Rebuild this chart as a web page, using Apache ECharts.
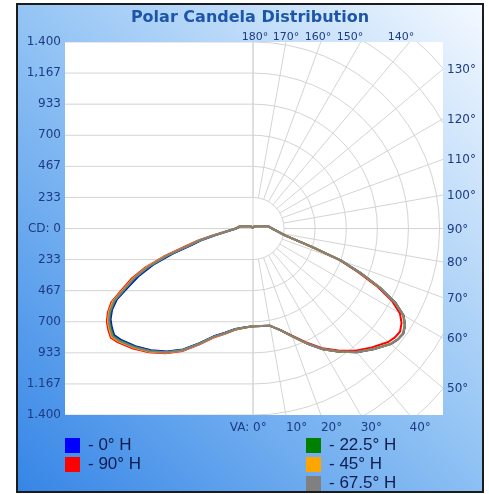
<!DOCTYPE html>
<html><head><meta charset="utf-8">
<script src="https://cdn.jsdelivr.net/npm/echarts@6/dist/echarts.min.js"></script>
<style>html,body{margin:0;padding:0;background:#fff;}#c{width:489px;height:494px;}</style>
</head><body><div id="c"></div>
<script>
// ---------------- DATA ----------------
// vertical angles (degrees from nadir)
const angles = [0,5,10,15,20,25,30,35,40,45,50,52.5,55,57.5,60,62.5,65,67.5,70,72.5,75,77.5,80,85,90,100,110,120,135,150,165,180];
// candela values: right half = plane H, left half = plane H+180
const h0_right    = [730,735,742,790,862,952,1047,1130,1213,1282,1350,1370,1378,1354,1306,1205,1053,876,705,476,332,255,216,172,143,110,52,33,25,18,12,5];
const h0_left     = [733,745,766,810,861,949,1048,1127,1193,1249,1298,1314,1294,1268,1222,1152,1030,925,800,635,474,388,290,174,126,97,50,32,24,18,12,5];
const h22_right   = [730,735,742,790,861,951,1046,1129,1212,1280,1349,1369,1376,1352,1304,1203,1051,874,704,475,331,255,215,171,143,110,52,33,25,18,12,5];
const h22_left    = [733,746,768,812,864,952,1051,1131,1198,1255,1305,1321,1301,1276,1231,1164,1045,945,818,655,490,398,296,177,127,98,50,32,24,18,12,5];
const h45_right   = [730,735,742,790,861,951,1046,1128,1211,1279,1348,1368,1375,1351,1303,1202,1050,873,703,474,331,254,215,171,143,110,52,33,25,18,12,5];
const h45_left    = [733,747,770,816,868,958,1058,1139,1208,1267,1319,1337,1317,1292,1249,1186,1071,972,850,690,516,415,306,181,129,98,50,32,24,18,12,5];
const h67_right   = [730,735,742,790,860,950,1045,1127,1210,1278,1347,1367,1374,1349,1301,1199,1048,872,702,473,330,254,215,171,143,110,52,33,25,18,12,5];
const h67_left    = [733,746,769,814,866,955,1055,1135,1203,1261,1312,1329,1309,1284,1240,1175,1058,959,835,673,503,407,301,179,128,98,50,32,24,18,12,5];
const h90_right   = [730,735,742,788,856,944,1038,1118,1198,1262,1325,1343,1348,1322,1274,1175,1028,855,690,465,325,252,214,170,142,110,52,33,25,18,12,5];
const h90_left    = [733,748,772,818,871,961,1062,1143,1213,1274,1327,1345,1326,1301,1258,1198,1085,988,865,705,530,425,312,184,130,99,50,32,24,18,12,5];

const seriesNames = ['0° H','90° H','22.5° H','45° H','67.5° H'];
const seriesColors = ['#0000ff','#ff0000','#008000','#ffa500','#808080'];

// axis ticks (cd) and their labels, top to bottom
const tickValues = [1400,1166.667,933.333,700,466.667,233.333,0,-233.333,-466.667,-700,-933.333,-1166.667,-1400];
const tickLabels = ['1.400','1,167','933','700','467','233','CD: 0','233','467','700','933','1.167','1.400'];
// polar grid
const radialAngles = [0,10,20,30,40,50,60,70,80,90,100,110,120,130,140,150,160,170,180];
const ringRadii = [233.333,466.667,700,933.333,1166.667,1400,1633.333,1866.667];
const topLabels = ['180°','170°','160°','150°','140°'];
const rightLabelAngles = [130,120,110,100,90,80,70,60,50];
const bottomLabelAngles = [0,10,20,30,40];

// ---------------- LAYOUT ----------------
const GRID = {left:65, top:42, width:378, height:373};
const X_MIN = -1411, X_MAX = 1426, Y_MAX = 1400;
const GRID_COLOR = '#d4d4d4';
const LABEL_COLOR = '#1d3b82';
const LABEL_FONT = '12px "DejaVu Sans"';
const TOP_FONT = '11px "DejaVu Sans"';
const topLabelX = [255, 286, 318, 350, 401];

function buildPolar(left, right){
  const d = [];
  for (let i = angles.length - 1; i >= 0; i--) d.push([left[i], 360 - angles[i]]);
  for (let i = 0; i < angles.length; i++) d.push([right[i], angles[i]]);
  return d;
}
const dataByName = {
  '0° H': buildPolar(h0_left, h0_right),
  '22.5° H': buildPolar(h22_left, h22_right),
  '45° H': buildPolar(h45_left, h45_right),
  '67.5° H': buildPolar(h67_left, h67_right),
  '90° H': buildPolar(h90_left, h90_right)
};

const chart = echarts.init(document.getElementById('c'), null, {renderer:'canvas'});

function lineEl(p1, p2){
  return {type:'line', shape:{x1:p1[0],y1:p1[1],x2:p2[0],y2:p2[1]}, style:{stroke:GRID_COLOR, lineWidth:1}, silent:true};
}
const rad = Math.PI/180;

const gridSeries = [
  { type:'custom', coordinateSystem:'cartesian2d', clip:true, silent:true, z:1,
    data: tickValues.map(v => [0, v]),
    renderItem: (p, api) => lineEl(api.coord([X_MIN, api.value(1)]), api.coord([0, api.value(1)])) },
  { type:'custom', coordinateSystem:'cartesian2d', clip:true, silent:true, z:1,
    data: [[0, 0]],
    renderItem: (p, api) => lineEl(api.coord([0, -Y_MAX]), api.coord([0, Y_MAX])) },
  { type:'custom', coordinateSystem:'cartesian2d', clip:true, silent:true, z:1,
    data: radialAngles.map(a => [a, 0]),
    renderItem: (p, api) => {
      const a = api.value(0) * rad, r0 = ringRadii[0], r1 = 2600;
      return lineEl(api.coord([r0*Math.sin(a), -r0*Math.cos(a)]), api.coord([r1*Math.sin(a), -r1*Math.cos(a)]));
    } },
  { type:'custom', coordinateSystem:'cartesian2d', clip:true, silent:true, z:1,
    data: ringRadii.map(r => [r, 0]),
    renderItem: (p, api) => {
      const c = api.coord([0, 0]);
      const rp = api.size([api.value(0), 0])[0];
      return {type:'arc', shape:{cx:c[0], cy:c[1], r:rp, startAngle:-Math.PI/2, endAngle:Math.PI/2, clockwise:true},
              style:{stroke:GRID_COLOR, fill:'none', lineWidth:1}, silent:true};
    } }
];

const dataSeries = ['0° H','90° H','22.5° H','45° H','67.5° H'].map(name => ({
  name, type:'line', coordinateSystem:'polar', data:dataByName[name],
  symbol:'none', smooth:false, z:3,
  lineStyle:{width:2, color:seriesColors[seriesNames.indexOf(name)]},
  itemStyle:{color:seriesColors[seriesNames.indexOf(name)]}
}));

const legendText = {fontFamily:'"Liberation Sans", Arial, sans-serif', fontSize:17, color:'#0e1c4e', lineHeight:15, padding:[0,0,0,3]};
const legendBase = {orient:'vertical', top:437, padding:0, itemWidth:15, itemHeight:15, itemGap:2, icon:'rect', selectedMode:false, formatter:'- {name}', textStyle:legendText, height:80};

chart.setOption({
  animation:false,
  backgroundColor:'#ffffff',
  grid:{left:GRID.left, top:GRID.top, width:GRID.width, height:GRID.height, show:false},
  xAxis:{type:'value', min:X_MIN, max:X_MAX, show:false},
  yAxis:{type:'value', min:-Y_MAX, max:Y_MAX,
    axisLine:{show:false}, axisTick:{show:false}, splitLine:{show:false},
    axisLabel:{customValues:tickValues, margin:4, color:LABEL_COLOR, fontFamily:'"DejaVu Sans"', fontSize:12,
      formatter:(v) => { let best = 0; tickValues.forEach((t,i)=>{ if (Math.abs(t-v) < Math.abs(tickValues[best]-v)) best = i; }); return tickLabels[best]; } }
  },
  polar:{center:[GRID.left + 188, GRID.top + GRID.height/2], radius:GRID.height/2},
  angleAxis:{type:'value', min:0, max:360, startAngle:270, clockwise:false, show:false},
  radiusAxis:{type:'value', min:0, max:Y_MAX, show:false},
  legend:[
    Object.assign({}, legendBase, {data:['0° H','90° H'], left:65}),
    Object.assign({}, legendBase, {data:['22.5° H','45° H','67.5° H'], left:306})
  ],
  series: gridSeries.concat(dataSeries)
});

// decorative frame, plot background, title and angle labels
const els = [];
els.push({type:'rect', z:-10, shape:{x:17, y:4, width:466, height:488},
  style:{fill:new echarts.graphic.LinearGradient(0,1,1,0,[{offset:0,color:'#3585e6'},{offset:0.5,color:'#90c2f4'},{offset:1,color:'#f4f9ff'}]), stroke:'#1b1b1b', lineWidth:2}, silent:true});
els.push({type:'rect', z:-9, shape:{x:GRID.left, y:GRID.top, width:GRID.width, height:GRID.height}, style:{fill:'#ffffff'}, silent:true});
els.push({type:'text', z:5, style:{text:'Polar Candela Distribution', x:250, y:18, font:'bold 16px "DejaVu Sans"', fill:'#1d56a8', textAlign:'center', textVerticalAlign:'middle'}});
topLabels.forEach((t,i) => els.push({type:'text', z:5, style:{text:t, x:topLabelX[i], y:37, font:TOP_FONT, fill:LABEL_COLOR, textAlign:'center', textVerticalAlign:'middle'}}));
rightLabelAngles.forEach(a => {
  const y = -X_MAX * Math.cos(a*rad) / Math.sin(a*rad);
  const p = chart.convertToPixel({gridIndex:0}, [X_MAX, y]);
  els.push({type:'text', z:5, style:{text:a + '°', x:p[0] + 4, y:p[1] + 1, font:LABEL_FONT, fill:LABEL_COLOR, textAlign:'left', textVerticalAlign:'middle'}});
});
bottomLabelAngles.forEach(a => {
  const x = Y_MAX * Math.tan(a*rad);
  const p = chart.convertToPixel({gridIndex:0}, [x, -Y_MAX]);
  els.push({type:'text', z:5, style:{text:a + '°', x:p[0], y:p[1] + 13, font:LABEL_FONT, fill:LABEL_COLOR, textAlign:'left', textVerticalAlign:'middle'}});
  if (a === 0) els.push({type:'text', z:5, style:{text:'VA: ', x:p[0], y:p[1] + 13, font:LABEL_FONT, fill:LABEL_COLOR, textAlign:'right', textVerticalAlign:'middle'}});
});
chart.setOption({graphic:{elements:els}});
</script></body></html>
